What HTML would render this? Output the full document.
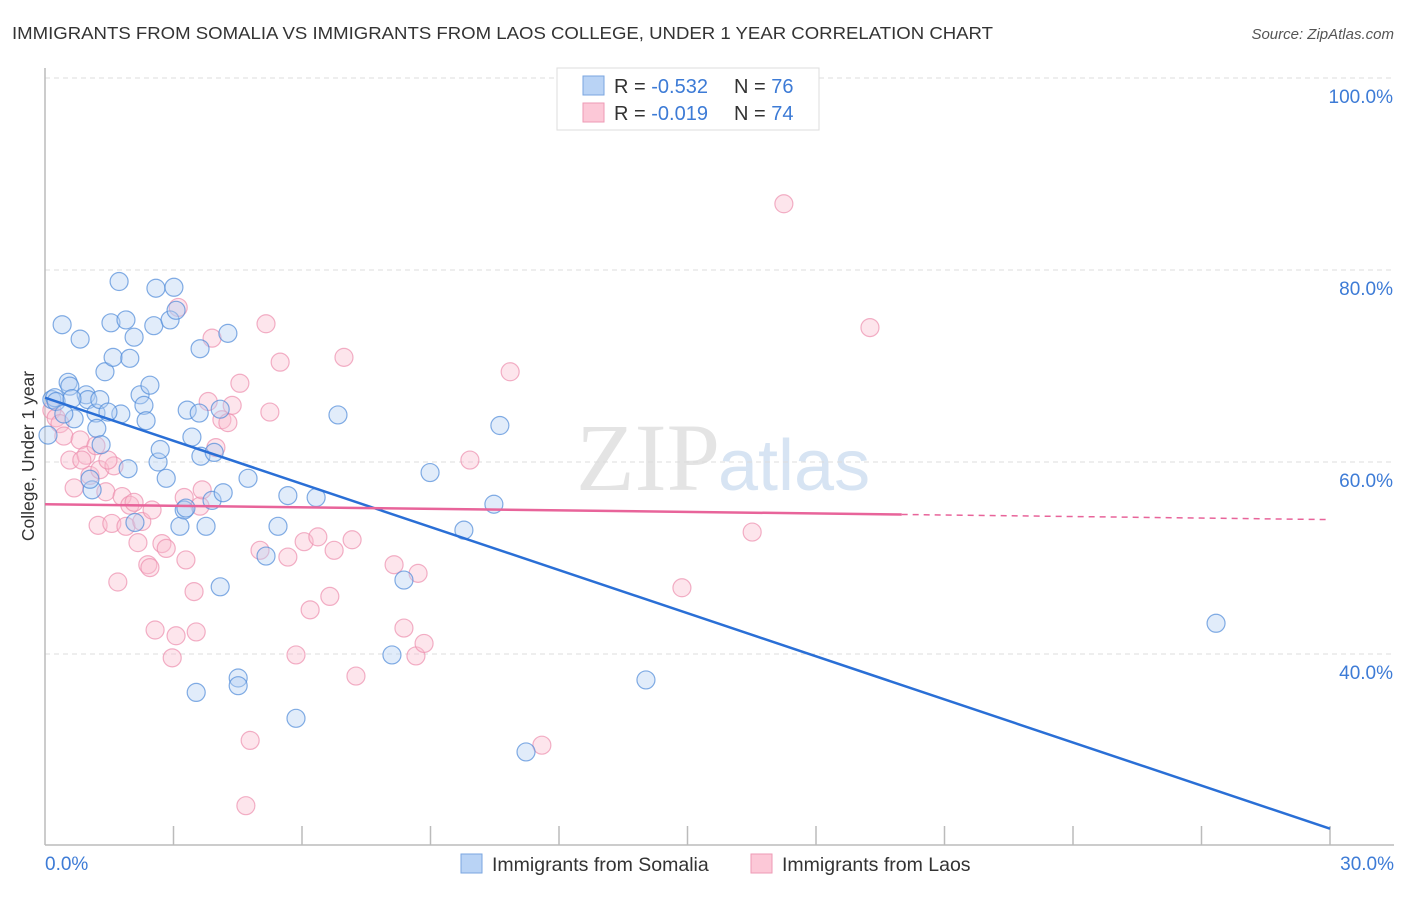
<!DOCTYPE html>
<html><head><meta charset="utf-8"><style>
body{margin:0;background:#fff;font-family:"Liberation Sans",sans-serif}
</style></head><body>
<svg id="chart" width="1406" height="892" xmlns="http://www.w3.org/2000/svg" style="font-family:'Liberation Sans',sans-serif">
<text x="12" y="39" font-size="17.5" fill="#333" textLength="981" lengthAdjust="spacingAndGlyphs">IMMIGRANTS FROM SOMALIA VS IMMIGRANTS FROM LAOS COLLEGE, UNDER 1 YEAR CORRELATION CHART</text>
<text x="1394" y="39" font-size="15" fill="#555" font-style="italic" text-anchor="end">Source: ZipAtlas.com</text>
<text x="720" y="490" font-size="96" fill="#e4e4e4" text-anchor="end" font-family="Liberation Serif">ZIP</text>
<text x="718" y="490" font-size="72" fill="#d7e4f3">atlas</text>
<g id="grid"></g><g id="axes"></g><g id="pts"></g><g id="lines"></g>
<text transform="translate(34,456) rotate(-90)" font-size="17.5" fill="#333" text-anchor="middle">College, Under 1 year</text>
<text x="45" y="870" font-size="19" fill="#3d7bd6">0.0%</text>
<text x="1394" y="870" font-size="19" fill="#3d7bd6" text-anchor="end">30.0%</text>
<g>
<rect x="557" y="68" width="262" height="62" fill="#fff" stroke="#ddd"/>
<rect x="583" y="76" width="21" height="19" fill="#b9d3f5" stroke="#7aa6e0"/>
<rect x="583" y="103" width="21" height="19" fill="#fcc8d7" stroke="#ee9ab4"/>
<text x="614" y="93" font-size="20" fill="#333">R = <tspan fill="#3d7bd6">-0.532</tspan></text>
<text x="734" y="93" font-size="20" fill="#333">N = <tspan fill="#3d7bd6">76</tspan></text>
<text x="614" y="120" font-size="20" fill="#333">R = <tspan fill="#3d7bd6">-0.019</tspan></text>
<text x="734" y="120" font-size="20" fill="#333">N = <tspan fill="#3d7bd6">74</tspan></text>
</g>
<g>
<rect x="461" y="854" width="21" height="19" fill="#b9d3f5" stroke="#7aa6e0"/>
<text x="492" y="871" font-size="19.5" fill="#333">Immigrants from Somalia</text>
<rect x="751" y="854" width="21" height="19" fill="#fcc8d7" stroke="#ee9ab4"/>
<text x="782" y="871" font-size="19.5" fill="#333">Immigrants from Laos</text>
</g>
</svg>
<script>
const yTicks=[100,80,60,40];
const yTickLabels=["100.0%","80.0%","60.0%","40.0%"];
const somaliaX=[0.07,0.16,0.23,0.40,0.54,0.58,0.68,0.82,0.96,1.00,1.10,1.19,1.21,1.31,1.28,1.40,1.54,1.59,1.73,1.77,1.89,1.94,1.98,2.08,2.22,2.31,2.36,2.45,2.54,2.59,2.64,2.69,2.83,2.92,3.01,3.06,3.15,3.25,3.32,3.43,3.53,3.60,3.62,3.64,3.76,3.90,3.95,4.09,4.16,4.09,4.27,4.51,4.51,4.74,5.16,5.44,5.67,5.86,6.33,6.84,8.10,8.38,8.99,9.78,10.48,10.62,11.23,14.03,27.34,0.26,0.44,0.63,1.47,3.29,2.10,1.05];
const somaliaY=[62.8,66.5,66.7,74.3,68.3,67.9,64.5,72.8,67.0,66.5,57.1,65.1,63.5,61.8,66.5,69.4,74.5,70.9,78.8,65.0,74.8,59.3,70.8,73.0,67.0,65.9,64.3,68.0,74.2,78.1,60.0,61.3,58.3,74.8,78.2,75.8,53.3,55.0,65.4,62.6,36.0,65.1,71.8,60.6,53.3,56.0,61.0,65.5,56.8,47.0,73.4,37.5,36.7,58.3,50.2,53.3,56.5,33.3,56.3,64.9,39.9,47.7,58.9,52.9,55.6,63.8,29.8,37.3,43.2,66.3,65.0,66.6,65.2,55.2,53.7,58.2];
const laosX=[0.16,0.26,0.35,0.44,0.58,0.68,0.82,0.96,1.05,1.19,1.28,1.24,1.42,1.56,1.61,1.70,1.80,1.89,1.98,2.08,2.17,2.26,2.40,2.50,2.57,2.73,2.83,2.97,3.06,3.11,3.25,3.29,3.48,3.53,3.62,3.67,3.81,3.90,3.99,4.13,4.27,4.37,4.55,4.79,4.69,5.02,5.16,5.25,5.49,5.67,5.86,6.05,6.19,6.37,6.65,6.75,6.98,7.17,7.26,8.15,8.38,8.66,8.71,8.85,9.92,10.86,11.60,14.87,16.51,17.25,19.26,0.86,2.45,1.47];
const laosY=[65.4,64.6,64.0,62.7,60.2,57.3,62.3,60.7,58.6,61.7,59.2,53.4,56.9,53.6,59.6,47.5,56.4,53.3,55.5,55.8,51.6,53.8,49.3,55.0,42.5,51.5,51.0,39.6,41.9,76.1,56.3,49.8,46.5,42.3,55.4,57.1,66.3,72.9,61.5,64.4,64.1,65.9,68.2,31.0,24.2,50.8,74.4,65.2,70.4,50.1,39.9,51.7,44.6,52.2,46.0,50.8,70.9,51.9,37.7,49.3,42.7,39.8,48.4,41.1,60.2,69.4,30.5,46.9,52.7,86.9,74.0,60.2,49.0,60.2];
const somaliaTrend=[66.7,21.8];
const laosTrend=[55.6,54.0];
const xMaxSolidLaos=20;
const NS="http://www.w3.org/2000/svg";
const X=v=>45+v*(1285/30);
const Y=v=>78+(100-v)*9.6;
function mk(t,a,p){const e=document.createElementNS(NS,t);for(const k in a)e.setAttribute(k,a[k]);p.appendChild(e);return e;}
const grid=document.getElementById('grid'),axes=document.getElementById('axes'),pts=document.getElementById('pts'),lines=document.getElementById('lines');
yTicks.forEach((t,i)=>{
 const l=mk('line',{x1:45,x2:1394,y1:Y(t),y2:Y(t),stroke:'#ddd','stroke-dasharray':'5,4'},grid);
 
 
 const tx=mk('text',{x:1393,y:Y(t)+25,'font-size':19,fill:'#3d7bd6','text-anchor':'end'},grid);
 tx.textContent=yTickLabels[i];
 
 
});
const ya=mk('line',{x1:45,x2:45,y1:68,y2:845,stroke:'#bbb','stroke-width':1.5},axes);


const xa=mk('line',{x1:45,x2:1394,y1:845,y2:845,stroke:'#bbb','stroke-width':1.5},axes);


for(let i=1;i<=10;i++){const t=mk('line',{x1:X(i*3),x2:X(i*3),y1:826,y2:845,stroke:'#bbb','stroke-width':1.5},axes);
 
 }
function dots(xs,ys,fill,stroke,name){xs.forEach((x,i)=>{const c=mk('circle',{cx:X(x),cy:Y(ys[i]),r:9,fill:fill,'fill-opacity':0.4,stroke:stroke,'stroke-opacity':0.7,'stroke-width':1.2},pts);
 
 });}
dots(laosX,laosY,'#f9bfd0','#ec8fae','laos-point');
dots(somaliaX,somaliaY,'#b3cff3','#4f8ad8','somalia-point');
const bl=mk('line',{x1:X(0),y1:Y(somaliaTrend[0]),x2:X(30),y2:Y(somaliaTrend[1]),stroke:'#2a6fd6','stroke-width':2.5},lines);


const ly=v=>laosTrend[0]+(laosTrend[1]-laosTrend[0])*v/30;
const pl=mk('line',{x1:X(0),y1:Y(ly(0)),x2:X(xMaxSolidLaos),y2:Y(ly(xMaxSolidLaos)),stroke:'#e8649a','stroke-width':2.5},lines);


const pd=mk('line',{x1:X(xMaxSolidLaos),y1:Y(ly(xMaxSolidLaos)),x2:X(30),y2:Y(ly(30)),stroke:'#e8649a','stroke-width':1.5,'stroke-dasharray':'6,5'},lines);


</script>
</body></html>
